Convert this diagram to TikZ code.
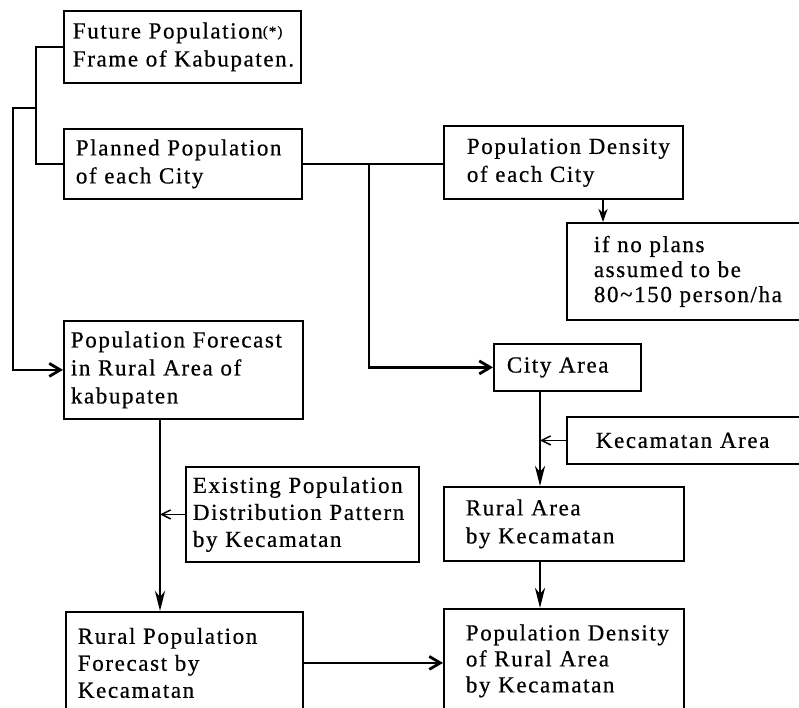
\documentclass[tikz,border=0pt]{standalone}
\usepackage{fontspec}
\setmainfont{Liberation Serif}[LetterSpace=7,FakeBold=0.6]
\usetikzlibrary{arrows.meta}
\tikzset{
  box/.style={draw, line width=1.8pt, anchor=north west, inner xsep=0pt, inner ysep=0pt,
    align=left, font=\fontsize{23}{28}\selectfont},
  bx/.style n args={3}{box, minimum width=#1pt, minimum height=#2pt, text width=#1pt,
    execute at begin node={\leftskip=#3pt\relax}},
  conn/.style={line width=2.8pt},
  harr/.style={-{Straight Barb[length=11pt,width=13pt]}},
  varr/.style={-{Stealth[length=20pt,width=10pt,inset=6pt]}},
  sarr/.style={line width=1.5pt,-{Straight Barb[length=9pt,width=9pt]}},
}
\begin{document}
\begin{tikzpicture}[x=1pt,y=-1pt]
\useasboundingbox (0,0) rectangle (799,707);
% boxes
\node[bx={237}{72}{9}] (fut) at (63,10)
  {\mbox{Future Population\raisebox{2pt}{\fontsize{15}{15}\selectfont(*)}}\\\mbox{Frame of Kabupaten.}};
\node[bx={238}{70}{12}] (plan) at (63,128)
  {\mbox{Planned Population}\\\mbox{of each City}};
\node[bx={239}{73}{23}] (pdc) at (443,125)
  {\mbox{Population Density}\\\mbox{of each City}};
\node[bx={260}{97}{27}, font=\fontsize{23}{25}\selectfont] (ifn) at (566,222)
  {\mbox{if no plans}\\\mbox{assumed to be}\\\mbox{80\textasciitilde150 person/ha}};
\node[bx={239}{98}{7}] (pfr) at (63,320)
  {\mbox{Population Forecast}\\\mbox{in Rural Area of}\\\mbox{kabupaten}};
\node[bx={147}{47}{13}] (city) at (493,343) {\mbox{City Area}};
\node[bx={260}{47}{29}] (kec) at (566,416) {\mbox{Kecamatan Area}};
\node[bx={233}{95}{7}, font=\fontsize{23}{27}\selectfont] (ex) at (185,466)
  {\mbox{Existing Population}\\\mbox{Distribution Pattern}\\\mbox{by Kecamatan}};
\node[bx={240}{74}{22}] (ra) at (443,486)
  {\mbox{Rural Area}\\\mbox{by Kecamatan}};
\node[bx={237}{102}{12}, font=\fontsize{23}{27}\selectfont] (rp) at (65,611)
  {\mbox{Rural Population}\\\mbox{Forecast by}\\\mbox{Kecamatan}};
\node[bx={240}{104}{22}, font=\fontsize{23}{26}\selectfont] (pdr) at (443,608)
  {\mbox{Population Density}\\\mbox{of Rural Area}\\\mbox{by Kecamatan}};
% junctions
\coordinate (j1) at (36,108);
\coordinate (j0) at (13,108);
\coordinate (j2) at (369,163);
\coordinate (cl) at ([xshift=47pt]city.south west);
\coordinate (pl) at ([xshift=97pt]pfr.south west);
% connectors
\draw[conn] (fut.west) -| (j1) |- (plan.west);
\draw[conn,harr] (j1) -- (j0) |- (pfr.west);
\draw[conn] (plan.east) -- (plan.east -| pdc.west);
\draw[conn,harr] (j2) |- (city.west);
\draw[conn,-{Stealth[length=13pt,width=9pt,inset=4pt]}] ([xshift=160pt]pdc.south west) -- ([xshift=37pt]ifn.north west);
\draw[conn,varr] (cl) -- ([xshift=97pt]ra.north west);
\draw[sarr] (kec.west) -- (kec.west -| cl);
\draw[conn,varr] ([xshift=97pt]ra.south west) -- ([xshift=97pt]pdr.north west);
\draw[conn,varr] (pl) -- ([xshift=95pt]rp.north west);
\draw[sarr] (ex.west) -- (ex.west -| pl);
\draw[conn,harr] (rp.east) -- (rp.east -| pdr.west);
\end{tikzpicture}
\end{document}
